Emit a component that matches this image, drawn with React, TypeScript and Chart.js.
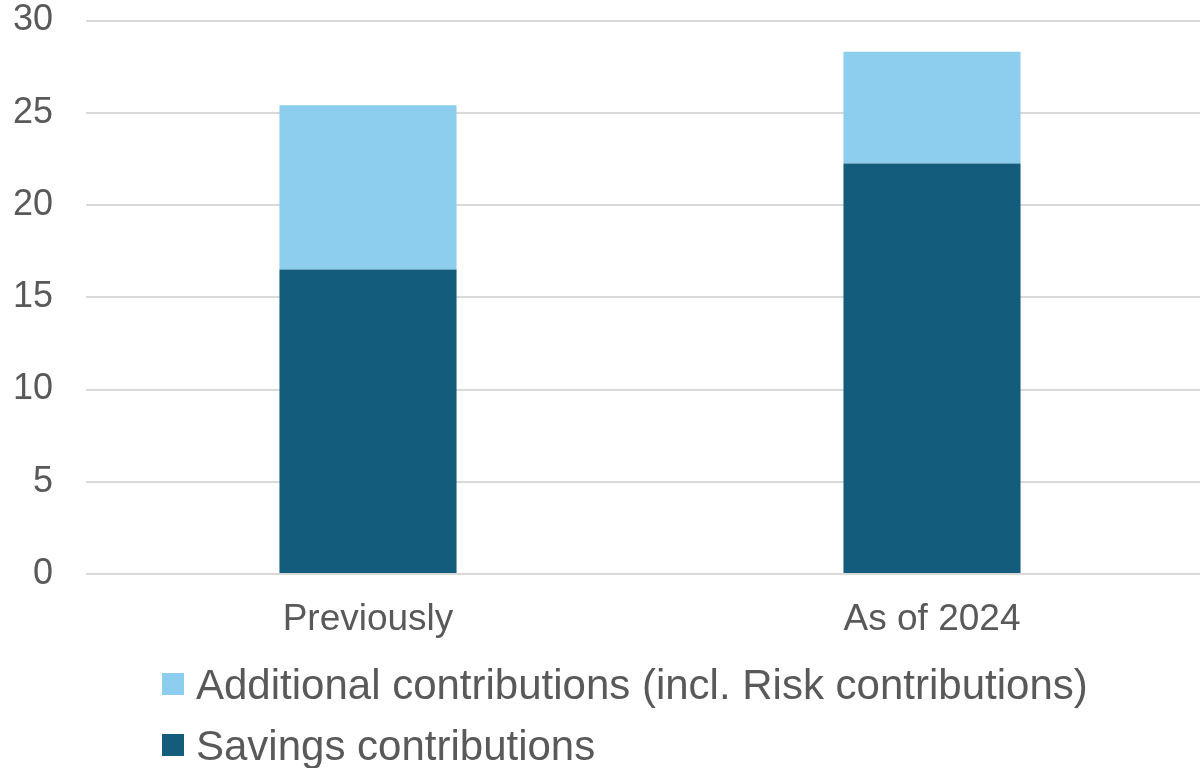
import React, { useEffect, useRef } from "react";
import { Chart, registerables } from "chart.js";

Chart.register(...registerables);

const categories = ["Previously", "As of 2024"];
const savingsContributions = [16.5, 22.25];
const additionalContributions = [8.9, 6.05];
const yTicks = [0, 5, 10, 15, 20, 25, 30];

const seriesLabels = ["Savings contributions", "Additional contributions (incl. Risk contributions)"];
const seriesColors = ["#145C7C", "#8DCEEE"];

const FONT = "'Liberation Sans', Arial, sans-serif";
const TEXT = "#595959";

const legendPlugin = {
  id: "stackLegend",
  afterDraw(chart: any) {
    const ctx = chart.ctx;
    const area = chart.chartArea;
    const items = chart.data.datasets.map((d: any) => ({ label: d.label, color: d.backgroundColor })).reverse();
    ctx.save();
    ctx.font = `42px ${FONT}`;
    ctx.textBaseline = "alphabetic";
    ctx.textAlign = "left";
    items.forEach((it: any, i: number) => {
      const baseY = area.bottom + 125 + i * 61;
      ctx.fillStyle = it.color;
      ctx.fillRect(162, baseY - 26, 22, 22);
      ctx.fillStyle = TEXT;
      ctx.fillText(it.label, 196, baseY);
    });
    ctx.restore();
  },
};

export default function App() {
  const ref = useRef<HTMLCanvasElement | null>(null);
  useEffect(() => {
    if (!ref.current) return;
    const chart = new Chart(ref.current, {
      type: "bar",
      data: {
        labels: categories,
        datasets: [
          {
            label: seriesLabels[0],
            data: savingsContributions,
            backgroundColor: seriesColors[0],
            categoryPercentage: 1,
            barPercentage: 0.314,
          },
          {
            label: seriesLabels[1],
            data: additionalContributions,
            backgroundColor: seriesColors[1],
            categoryPercentage: 1,
            barPercentage: 0.314,
          },
        ],
      },
      options: {
        animation: false,
        responsive: false,
        maintainAspectRatio: false,
        layout: { padding: { left: 13, top: 0, right: 0, bottom: 126 } },
        plugins: {
          legend: { display: false },
          tooltip: { enabled: false },
        },
        scales: {
          x: {
            stacked: true,
            grid: { display: false, drawTicks: false },
            border: { display: false },
            ticks: { color: TEXT, font: { family: FONT, size: 37 }, padding: 24 },
            afterFit: (axis: any) => {
              axis.height = 68;
              axis.paddingLeft = 0;
              axis.paddingRight = 0;
            },
          },
          y: {
            stacked: true,
            min: 0,
            max: 30,
            afterBuildTicks: (axis: any) => {
              axis.ticks = yTicks.map((v) => ({ value: v }));
            },
            grid: { color: "#D9D9D9", lineWidth: 2, drawTicks: false },
            border: { display: false },
            ticks: { color: TEXT, font: { family: FONT, size: 36 }, padding: 33 },
            afterFit: (axis: any) => {
              axis.width = 73;
              axis.paddingTop = 20.5;
              axis.paddingBottom = 0;
            },
          },
        },
      },
      plugins: [legendPlugin],
    });
    return () => chart.destroy();
  }, []);
  return (
    <div style={{ position: "fixed", left: 0, top: 0, width: 1200, height: 768, overflow: "hidden", background: "#fff" }}>
      <canvas ref={ref} width={1214} height={768} style={{ display: "block", width: 1214, height: 768 }} />
    </div>
  );
}
